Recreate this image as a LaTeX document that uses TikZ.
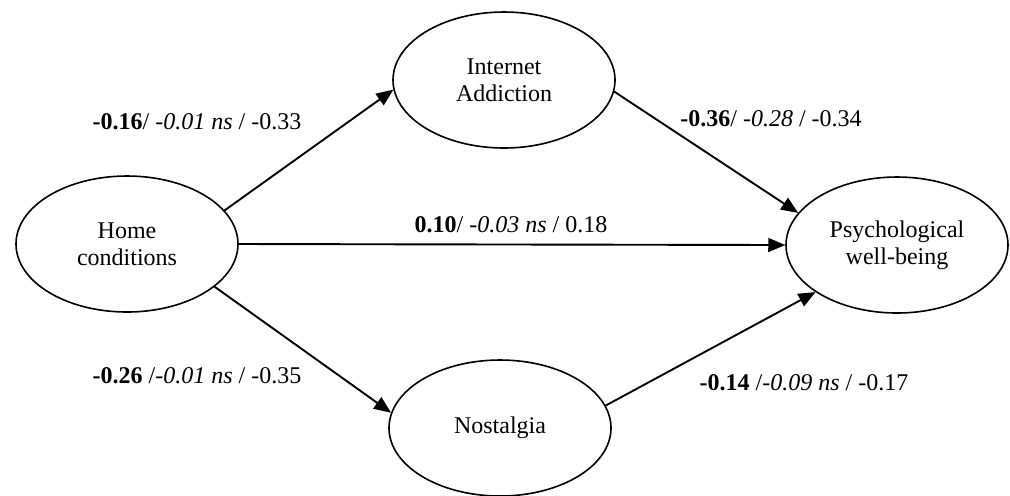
\documentclass[tikz,border=0pt]{standalone}
\usepackage{fontspec}
\setmainfont{Liberation Serif}
\usepackage{pgf,tikz}
\usetikzlibrary{arrows,shapes.geometric}

\begin{document}
\begin{tikzpicture}[line cap=round,line join=round,>=triangle 45,x=0.5pt,y=-0.5pt,
  latent/.style={draw,ellipse,line width=0.8pt,minimum width=111pt,minimum height=68pt,inner sep=0pt,align=center,font=\fontsize{12}{13.5}\selectfont},
  path/.style={->,line width=0.95pt},
  coef/.style={font=\fontsize{12}{14}\selectfont}]
\useasboundingbox (0,0) rectangle (1010,495);
\node[latent] (home) at (127,244) {Home\\conditions};
\node[latent] (inet) at (504,80) {Internet\\Addiction};
\node[latent] (psych) at (897,245) {Psychological\\well-being};
\node[latent] (nost) at (500,428) {Nostalgia};
\draw [path] (home.19)-- (inet.185);
\draw [path] (home.east)-- (psych.west);
\draw [path] (home.-26)-- (nost.172);
\draw [path] (inet.-6)-- (psych.162);
\draw [path] (nost.12)-- (psych.210);
\node[coef] (c1) at (197,122) {\textbf{-0.16}/ \textit{-0.01 ns} / -0.33};
\node[coef] (c2) at (771,119) {\textbf{-0.36}/ \textit{-0.28} / -0.34};
\node[coef] (c3) at (511,225) {\textbf{0.10}/ \textit{-0.03 ns} / 0.18};
\node[coef] (c4) at (197,376) {\textbf{-0.26} /\textit{-0.01 ns} / -0.35};
\node[coef] (c5) at (804,383) {\textbf{-0.14} /\textit{-0.09 ns} / -0.17};
\end{tikzpicture}
\end{document}
